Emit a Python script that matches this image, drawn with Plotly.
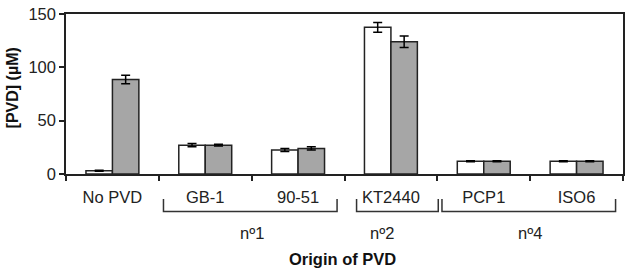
import plotly.graph_objects as go

categories = ["No PVD", "GB-1", "90-51", "KT2440", "PCP1", "ISO6"]
white_vals = [3, 27, 22.5, 137.5, 12, 12]
white_err = [0.5, 1.5, 1.5, 4.5, 0.5, 0.5]
gray_vals = [88.5, 27, 24, 124, 12, 12]
gray_err = [4, 0.8, 1.5, 5.5, 0.5, 0.5]
groups = [("nº1", ["GB-1", "90-51"]), ("nº2", ["KT2440"]), ("nº4", ["PCP1", "ISO6"])]
y_ticks = [0, 50, 100, 150]

FONT = "Liberation Sans, Arial, sans-serif"
LINE = "#222222"

fig = go.Figure()
fig.add_trace(go.Bar(x=categories, y=white_vals, marker=dict(color="white", line=dict(color=LINE, width=1.5)),
                     error_y=dict(type="data", array=white_err, color="black", thickness=1.5, width=4.5),
                     showlegend=False))
fig.add_trace(go.Bar(x=categories, y=gray_vals, marker=dict(color="#A6A6A6", line=dict(color=LINE, width=1.5)),
                     error_y=dict(type="data", array=gray_err, color="black", thickness=1.5, width=4.5),
                     showlegend=False))

L, R, T, B = 66, 5, 8, 101
W, H = 630, 275
pw = W - L - R
ph = H - T - B
n = len(categories)

def xpaper(pos):
    return (pos + 0.5) / n

def ypaper(py):
    return (H - B - py) / ph

shapes = []
annotations = []
bracket_top, bracket_bot = 200, 213
label_y = 235
for label, cats in groups:
    i0 = categories.index(cats[0])
    i1 = categories.index(cats[-1])
    x0 = xpaper(i0 - 0.45)
    x1 = xpaper(i1 + 0.42)
    if len(cats) == 1:
        x0 = xpaper(i0 - 0.37)
        x1 = xpaper(i1 + 0.51)
    yt, yb = ypaper(bracket_top), ypaper(bracket_bot)
    shapes.append(dict(type="path", xref="paper", yref="paper",
                       path=f"M {x0} {yt} L {x0} {yb} L {x1} {yb} L {x1} {yt}",
                       line=dict(color="#333333", width=1.5)))
    cx = (xpaper(i0) + xpaper(i1)) / 2
    if len(cats) == 1:
        cx = xpaper(i0 - 0.1)
    annotations.append(dict(text=label, x=cx, y=ypaper(label_y), xref="paper", yref="paper",
                            showarrow=False, font=dict(family=FONT, size=16.5, color="#222"),
                            xanchor="center", yanchor="middle"))

annotations.append(dict(text="Origin of PVD", x=(343 - L) / pw, y=ypaper(262), xref="paper", yref="paper",
                        showarrow=False, font=dict(family=FONT, size=16.5, color="#111", weight="bold"),
                        xanchor="center", yanchor="middle"))
annotations.append(dict(text="[PVD] (µM)", x=(12 - L) / pw, y=ypaper(85), xref="paper", yref="paper",
                        showarrow=False, textangle=-90, font=dict(family=FONT, size=16, color="#111", weight="bold"),
                        xanchor="center", yanchor="middle"))

fig.update_layout(
    width=W, height=H,
    margin=dict(l=L, r=R, t=T, b=B),
    paper_bgcolor="white", plot_bgcolor="white",
    barmode="group", bargap=0.43, bargroupgap=0,
    shapes=shapes, annotations=annotations,
    font=dict(family=FONT, size=16.5, color="#222"),
)
fig.update_xaxes(type="category", showline=True, linecolor=LINE, linewidth=1.5, mirror=True,
                 ticks="outside", tickson="boundaries", ticklen=5, tickcolor=LINE, tickwidth=1.5,
                 ticklabelstandoff=7,
                 showgrid=False, tickfont=dict(family=FONT, size=16.5, color="#222"))
fig.update_yaxes(range=[0, 150.01], tickvals=y_ticks, showline=True, linecolor=LINE, linewidth=1.5, mirror=True,
                 ticks="outside", ticklen=5, tickcolor=LINE, tickwidth=1.5, showgrid=False, zeroline=False,
                 ticklabeloverflow="allow", tickfont=dict(family=FONT, size=16.5, color="#222"))

fig.write_html("out.html", config={"displayModeBar": False},
               post_script="document.body.style.margin='0';document.body.style.overflow='hidden';")
